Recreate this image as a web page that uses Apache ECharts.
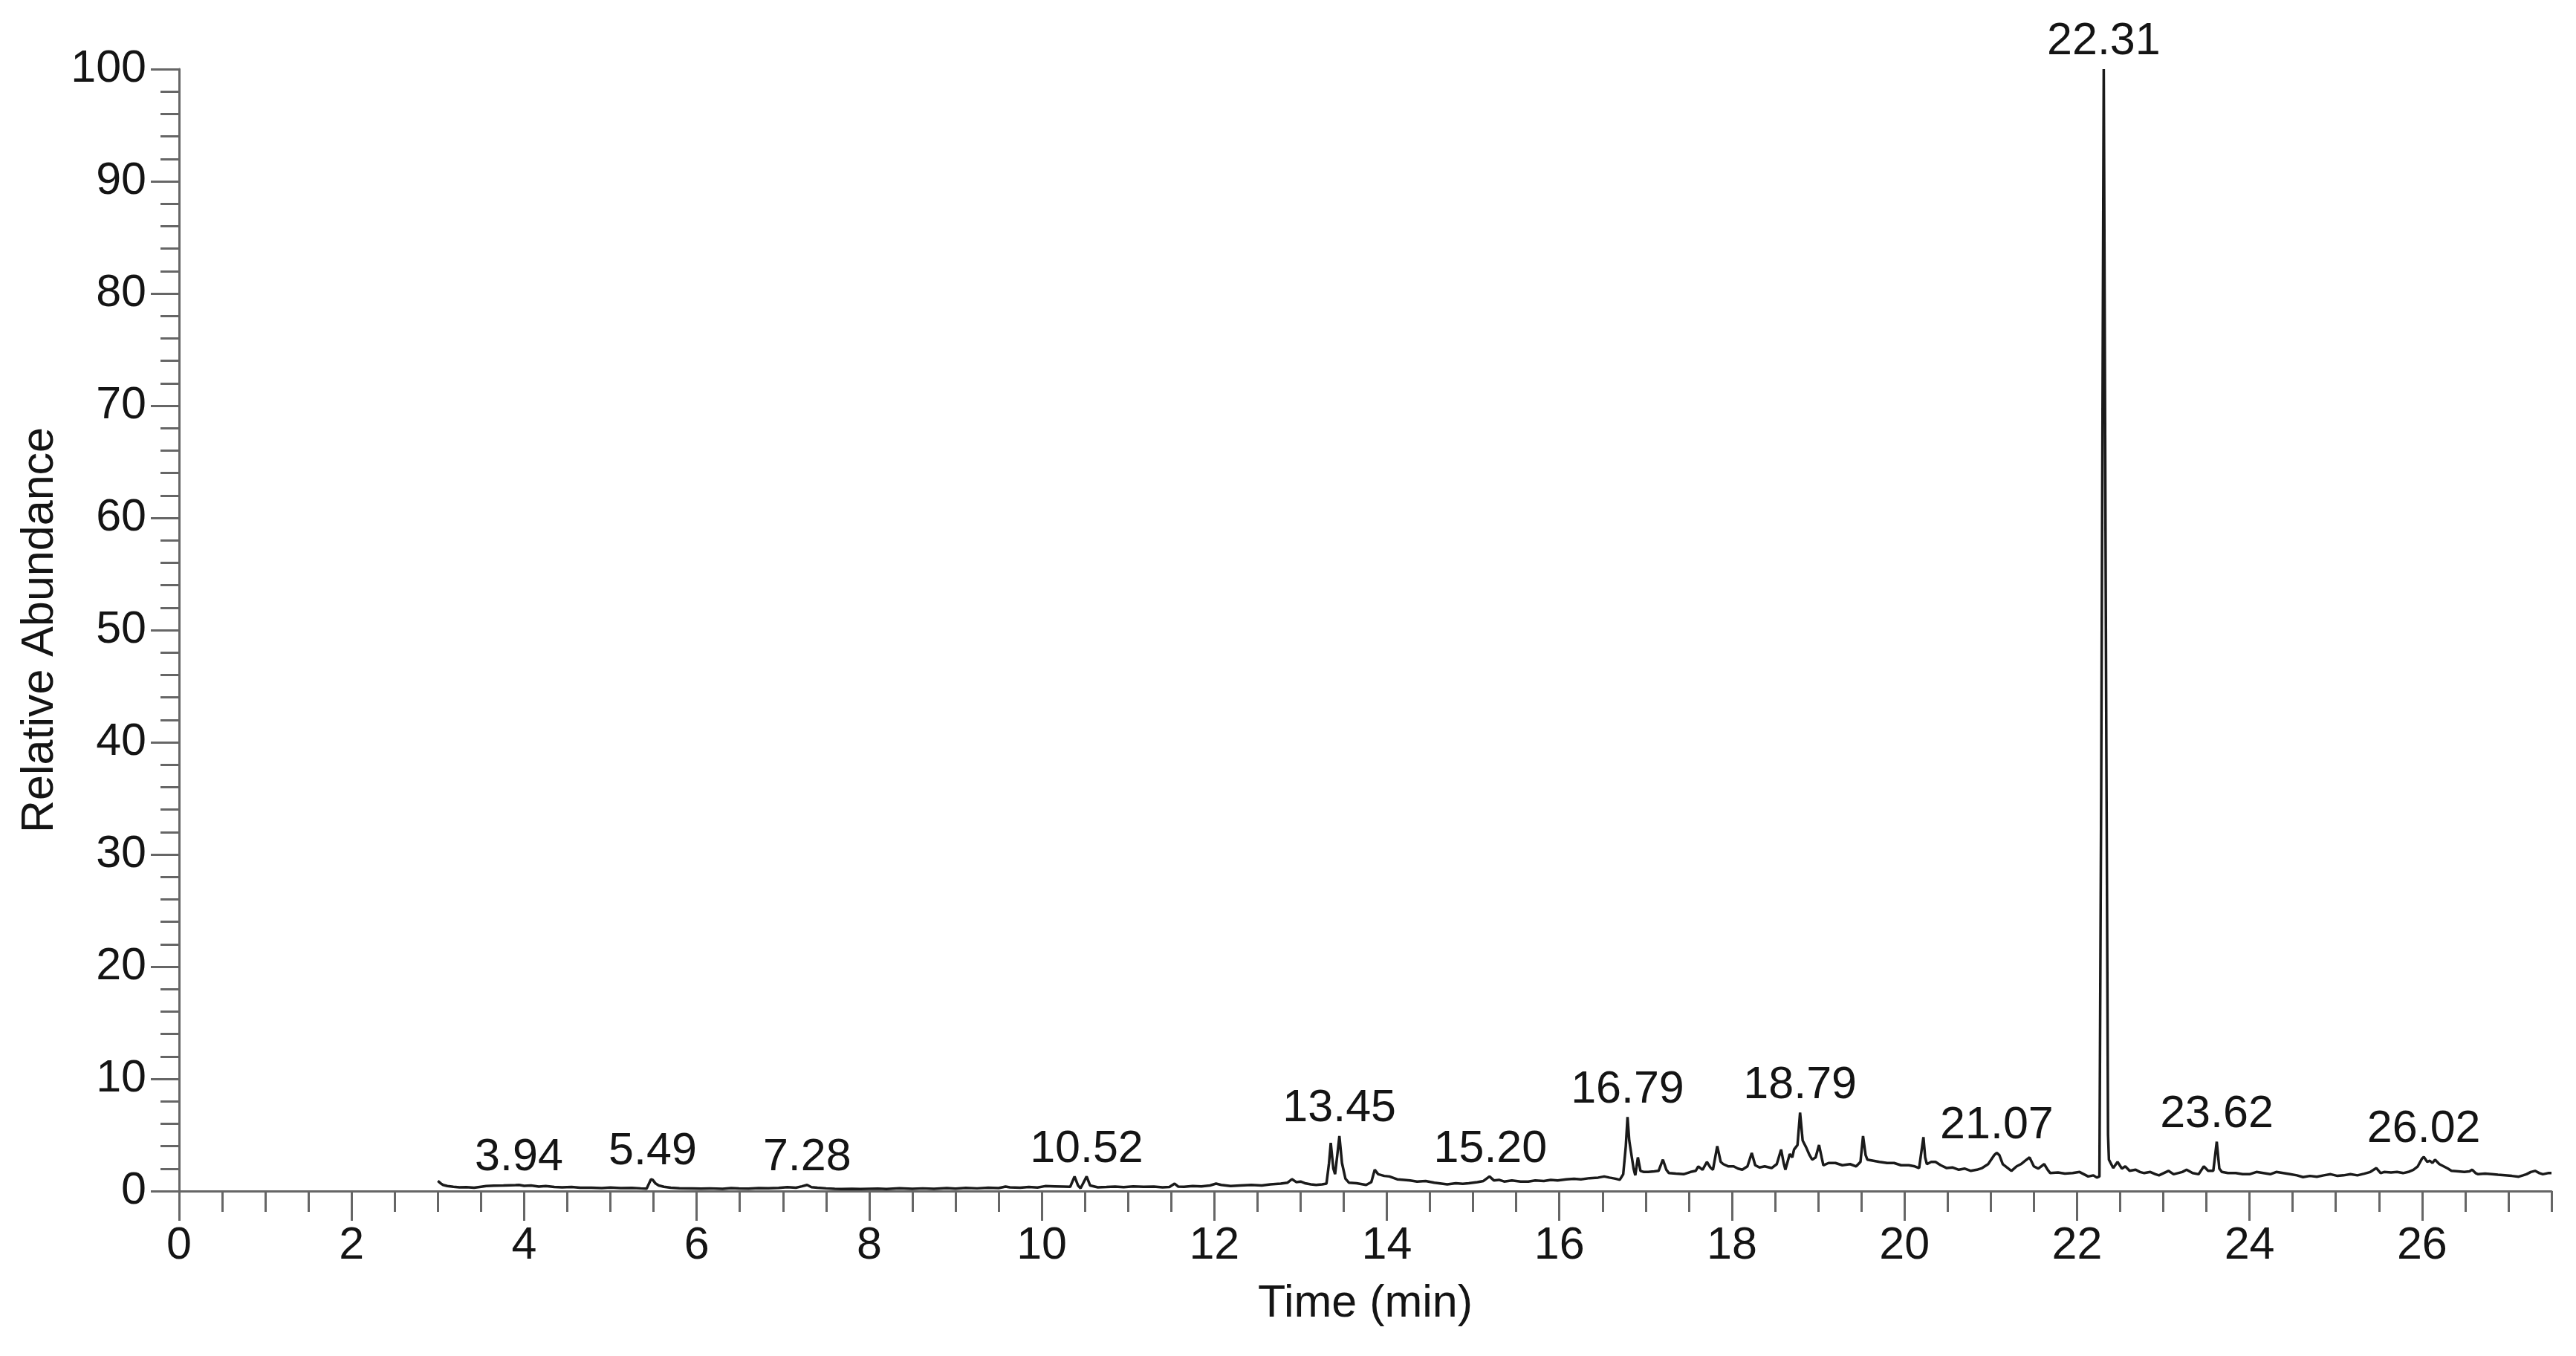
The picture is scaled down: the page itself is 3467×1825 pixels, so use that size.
<!DOCTYPE html>
<html>
<head>
<meta charset="utf-8">
<script src="https://cdn.jsdelivr.net/npm/echarts@6/dist/echarts.min.js"></script>
<style>
  html, body { margin: 0; padding: 0; background: #fff; }
  #chart { width: 3467px; height: 1825px; }
</style>
</head>
<body>
<div id="chart"></div>
<script>
// retention time (min)
const retentionTime = [
  3.00, 3.03, 3.06, 3.11, 3.18, 3.25, 3.33, 3.42, 3.50, 3.56, 3.65, 3.76, 3.84, 3.90, 3.94,
  4.00, 4.08, 4.17, 4.25, 4.35, 4.44, 4.55, 4.65, 4.78, 4.90, 5.00, 5.12, 5.25, 5.35, 5.42,
  5.47, 5.49, 5.52, 5.56, 5.62, 5.70, 5.80, 5.95, 6.05, 6.15, 6.30, 6.40, 6.49, 6.60, 6.72,
  6.83, 6.95, 7.05, 7.15, 7.22, 7.28, 7.33, 7.40, 7.50, 7.60, 7.68, 7.80, 7.90, 8.00, 8.10,
  8.20, 8.35, 8.50, 8.62, 8.75, 8.90, 9.00, 9.12, 9.25, 9.38, 9.50, 9.58, 9.63, 9.75, 9.85,
  9.95, 10.04, 10.15, 10.25, 10.33, 10.38, 10.42, 10.45, 10.48, 10.52, 10.56, 10.65, 10.75, 10.85, 10.95,
  11.06, 11.18, 11.30, 11.40, 11.48, 11.54, 11.58, 11.65, 11.75, 11.85, 11.95, 12.02, 12.08, 12.19, 12.30,
  12.43, 12.55, 12.65, 12.77, 12.85, 12.90, 12.95, 13.00, 13.05, 13.12, 13.18, 13.25, 13.30, 13.33, 13.35,
  13.38, 13.40, 13.43, 13.45, 13.48, 13.52, 13.56, 13.65, 13.76, 13.82, 13.86, 13.90, 13.97, 14.03, 14.12,
  14.20, 14.27, 14.35, 14.45, 14.55, 14.60, 14.70, 14.80, 14.88, 14.95, 15.05, 15.12, 15.19, 15.24, 15.30,
  15.36, 15.45, 15.55, 15.64, 15.72, 15.82, 15.90, 15.98, 16.08, 16.17, 16.25, 16.35, 16.45, 16.52, 16.58,
  16.65, 16.70, 16.74, 16.77, 16.79, 16.81, 16.83, 16.86, 16.88, 16.91, 16.94, 16.98, 17.03, 17.10, 17.15,
  17.20, 17.24, 17.27, 17.35, 17.44, 17.52, 17.58, 17.61, 17.66, 17.71, 17.75, 17.78, 17.83, 17.87, 17.90,
  17.96, 18.02, 18.07, 18.12, 18.18, 18.23, 18.27, 18.32, 18.38, 18.46, 18.52, 18.57, 18.60, 18.62, 18.67,
  18.70, 18.72, 18.76, 18.79, 18.82, 18.86, 18.90, 18.93, 18.97, 19.01, 19.04, 19.06, 19.12, 19.20, 19.28,
  19.37, 19.44, 19.49, 19.52, 19.55, 19.57, 19.64, 19.71, 19.80, 19.88, 19.96, 20.05, 20.12, 20.17, 20.22,
  20.24, 20.26, 20.31, 20.36, 20.42, 20.49, 20.56, 20.63, 20.70, 20.77, 20.84, 20.90, 20.97, 21.04, 21.07,
  21.10, 21.14, 21.19, 21.24, 21.30, 21.35, 21.40, 21.45, 21.50, 21.55, 21.62, 21.66, 21.69, 21.78, 21.86,
  21.95, 22.03, 22.08, 22.13, 22.19, 22.23, 22.26, 22.28, 22.31, 22.34, 22.36, 22.37, 22.42, 22.47, 22.52,
  22.56, 22.61, 22.68, 22.73, 22.78, 22.85, 22.91, 22.95, 23.06, 23.12, 23.22, 23.27, 23.34, 23.41, 23.47,
  23.52, 23.58, 23.62, 23.65, 23.68, 23.75, 23.84, 23.92, 24.00, 24.08, 24.16, 24.24, 24.31, 24.39, 24.47,
  24.55, 24.62, 24.70, 24.78, 24.86, 24.94, 25.02, 25.09, 25.17, 25.25, 25.33, 25.40, 25.47, 25.52, 25.56,
  25.64, 25.71, 25.78, 25.84, 25.90, 25.95, 26.00, 26.02, 26.06, 26.09, 26.12, 26.15, 26.20, 26.25, 26.30,
  26.34, 26.42, 26.49, 26.55, 26.58, 26.62, 26.65, 26.73, 26.81, 26.88, 26.96, 27.04, 27.12, 27.17, 27.21,
  27.26, 27.31, 27.36, 27.40, 27.46, 27.50
];

// relative abundance (%) at each retention time
const abundance = [
  0.9, 0.7, 0.55, 0.45, 0.38, 0.33, 0.35, 0.3, 0.38, 0.44, 0.48, 0.5, 0.52, 0.53, 0.55,
  0.46, 0.5, 0.4, 0.44, 0.36, 0.33, 0.36, 0.3, 0.3, 0.27, 0.32, 0.26, 0.28, 0.24, 0.22,
  1.05, 1.0, 0.7, 0.5, 0.38, 0.3, 0.25, 0.24, 0.22, 0.24, 0.2, 0.26, 0.24, 0.22, 0.26,
  0.25, 0.28, 0.35, 0.3, 0.42, 0.55, 0.35, 0.3, 0.24, 0.2, 0.18, 0.2, 0.18, 0.2, 0.22,
  0.18, 0.25, 0.2, 0.24, 0.2, 0.26, 0.22, 0.28, 0.24, 0.3, 0.26, 0.4, 0.33, 0.3, 0.36,
  0.32, 0.44, 0.42, 0.4, 0.38, 1.3, 0.5, 0.25, 0.7, 1.3, 0.5, 0.33, 0.36, 0.4, 0.34,
  0.42, 0.38, 0.4, 0.33, 0.36, 0.66, 0.4, 0.38, 0.44, 0.42, 0.5, 0.66, 0.55, 0.44, 0.5,
  0.55, 0.5, 0.6, 0.66, 0.75, 1.06, 0.8, 0.85, 0.7, 0.6, 0.55, 0.6, 0.66, 2.5, 4.3,
  2.0, 1.5, 3.5, 4.9, 2.5, 1.1, 0.75, 0.7, 0.55, 0.8, 1.9, 1.5, 1.35, 1.3, 1.05,
  1.0, 0.95, 0.85, 0.9, 0.75, 0.7, 0.6, 0.7, 0.65, 0.7, 0.8, 0.9, 1.3, 0.95, 1.0,
  0.85, 0.95, 0.85, 0.85, 0.95, 0.9, 1.0, 0.95, 1.05, 1.1, 1.05, 1.15, 1.2, 1.3, 1.2,
  1.1, 1.0, 1.5, 4.0, 6.6, 4.5, 3.5, 2.0, 1.4, 3.0, 1.8, 1.7, 1.7, 1.75, 1.8,
  2.8, 1.9, 1.6, 1.55, 1.5, 1.7, 1.8, 2.2, 1.9, 2.6, 2.1, 1.9, 4.0, 2.6, 2.4,
  2.2, 2.2, 2.0, 1.9, 2.2, 3.4, 2.3, 2.1, 2.2, 2.05, 2.4, 3.7, 2.5, 1.9, 3.3,
  3.0, 3.7, 4.1, 7.0, 4.5, 3.9, 3.2, 2.8, 3.0, 4.1, 3.0, 2.3, 2.5, 2.5, 2.3,
  2.4, 2.2, 2.6, 4.9, 3.2, 2.8, 2.7, 2.6, 2.5, 2.5, 2.3, 2.3, 2.2, 2.05, 4.8,
  3.0, 2.4, 2.6, 2.6, 2.3, 2.05, 2.1, 1.9, 2.0, 1.8, 1.9, 2.05, 2.4, 3.2, 3.4,
  3.2, 2.4, 2.1, 1.8, 2.2, 2.4, 2.7, 3.0, 2.2, 2.0, 2.4, 1.9, 1.6, 1.65, 1.55,
  1.6, 1.7, 1.5, 1.3, 1.4, 1.2, 1.3, 35, 100, 40, 5, 2.8, 2.05, 2.6, 2.0,
  2.2, 1.8, 1.9, 1.7, 1.6, 1.7, 1.5, 1.4, 1.8, 1.5, 1.7, 1.9, 1.6, 1.5, 2.2,
  1.8, 1.8, 4.4, 2.0, 1.7, 1.6, 1.6, 1.5, 1.5, 1.7, 1.6, 1.5, 1.7, 1.6, 1.5,
  1.4, 1.24, 1.35, 1.28, 1.4, 1.5, 1.35, 1.4, 1.5, 1.4, 1.55, 1.7, 2.05, 1.6, 1.7,
  1.65, 1.7, 1.6, 1.7, 1.9, 2.2, 2.9, 3.05, 2.6, 2.7, 2.5, 2.8, 2.4, 2.2, 2.0,
  1.8, 1.75, 1.7, 1.75, 1.9, 1.6, 1.5, 1.55, 1.5, 1.45, 1.4, 1.35, 1.28, 1.4, 1.5,
  1.7, 1.8, 1.6, 1.5, 1.6, 1.6
];

// annotated peaks
const peakLabels = ["3.94", "5.49", "7.28", "10.52", "13.45", "15.20", "16.79", "18.79", "21.07", "22.31", "23.62", "26.02"];

const xMajorTicks = [0, 2, 4, 6, 8, 10, 12, 14, 16, 18, 20, 22, 24, 26];

const textColor = "#141414";
const axisColor = "#666666";
const fontFamily = "'Liberation Sans', Arial, sans-serif";

const traceData = retentionTime.map((t, i) => [t, abundance[i]]);

// put each label above the highest trace point near its retention time
const peakData = peakLabels.map((lbl) => {
  const t = parseFloat(lbl);
  let best = 0;
  retentionTime.forEach((rt, i) => {
    if (Math.abs(rt - t) <= 0.03 && abundance[i] > best) best = abundance[i];
  });
  return { value: [t, best], name: lbl };
});

const chart = echarts.init(document.getElementById("chart"));
chart.setOption({
  animation: false,
  backgroundColor: "#ffffff",
  grid: { left: 241, right: 33, top: 93, bottom: 222 },
  xAxis: [
    {
      type: "value",
      min: 0,
      max: 27.5,
      position: "bottom",
      name: "Time (min)",
      nameLocation: "middle",
      nameGap: 122,
      nameTextStyle: { color: textColor, fontSize: 61, fontFamily: fontFamily },
      splitLine: { show: false },
      axisLine: { show: true, lineStyle: { color: axisColor, width: 3 } },
      axisTick: { show: true, length: 40, customValues: xMajorTicks, lineStyle: { color: axisColor, width: 3 } },
      axisLabel: {
        show: true,
        customValues: xMajorTicks,
        margin: 44,
        color: textColor,
        fontSize: 61,
        fontFamily: fontFamily,
        formatter: (v) => (v % 2 === 0 ? String(v) : ""),
      },
    },
    {
      // minor ticks every 0.5 min
      type: "value",
      min: 0,
      max: 27.5,
      interval: 0.5,
      position: "bottom",
      offset: 0,
      splitLine: { show: false },
      axisLine: { show: false },
      axisTick: { show: true, length: 28, lineStyle: { color: axisColor, width: 3 } },
      axisLabel: { show: false },
    },
  ],
  yAxis: {
    type: "value",
    min: 0,
    max: 100,
    interval: 10,
    name: "Relative Abundance",
    nameLocation: "middle",
    nameGap: 142,
    nameTextStyle: { color: textColor, fontSize: 61, fontFamily: fontFamily },
    splitLine: { show: false },
    axisLine: { show: true, lineStyle: { color: axisColor, width: 3 } },
    axisTick: { show: true, length: 38, lineStyle: { color: axisColor, width: 3 } },
    minorTick: { show: true, splitNumber: 5, length: 25, lineStyle: { color: axisColor, width: 3 } },
    axisLabel: { margin: 44, color: textColor, fontSize: 61, fontFamily: fontFamily },
  },
  series: [
    {
      name: "TIC",
      type: "line",
      xAxisIndex: 0,
      showSymbol: false,
      symbol: "none",
      smooth: false,
      lineStyle: { color: "#1a1a1a", width: 3.5 },
      data: traceData,
      z: 3,
    },
    {
      name: "peaks",
      type: "scatter",
      xAxisIndex: 0,
      symbolSize: 0,
      itemStyle: { opacity: 1 },
      data: peakData,
      label: {
        show: true,
        position: "top",
        distance: 6,
        color: textColor,
        opacity: 1,
        fontSize: 61,
        fontFamily: fontFamily,
        formatter: (p) => p.name,
      },
      z: 4,
    },
  ],
});
</script>
</body>
</html>
